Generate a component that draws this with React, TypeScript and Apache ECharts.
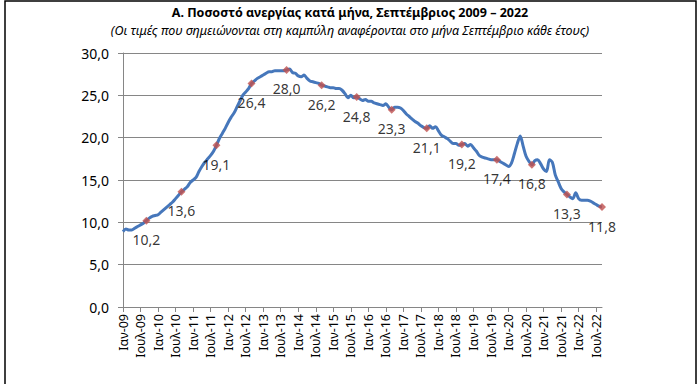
import React, { useEffect, useRef } from "react";
import * as echarts from "echarts";

const monthNames = ["Ιαν", "Φεβ", "Μαρ", "Απρ", "Μαϊ", "Ιουν", "Ιουλ", "Αυγ", "Σεπ", "Οκτ", "Νοε", "Δεκ"];
const years = [2009, 2010, 2011, 2012, 2013, 2014, 2015, 2016, 2017, 2018, 2019, 2020, 2021, 2022];

const rate2009 = [8.9, 9.2, 9.1, 9.1, 9.3, 9.5, 9.7, 9.9, 10.2, 10.5, 10.7, 10.8];
const rate2010 = [10.9, 11.2, 11.5, 11.8, 12.1, 12.4, 12.8, 13.2, 13.6, 13.9, 14.2, 14.7];
const rate2011 = [15.0, 15.3, 16.0, 16.6, 17.1, 17.5, 17.9, 18.4, 19.1, 19.9, 20.5, 21.1];
const rate2012 = [21.8, 22.4, 22.9, 23.6, 24.3, 25.0, 25.4, 25.8, 26.4, 26.7, 27.0, 27.2];
const rate2013 = [27.4, 27.6, 27.8, 27.8, 27.9, 27.9, 27.9, 27.9, 28.0, 28.1, 27.7, 27.6];
const rate2014 = [27.3, 27.2, 27.4, 27.0, 26.7, 26.6, 26.5, 26.4, 26.2, 26.1, 26.0, 25.9];
const rate2015 = [25.9, 25.8, 25.8, 25.6, 25.2, 24.7, 25.0, 24.7, 24.8, 24.6, 24.4, 24.5];
const rate2016 = [24.3, 24.3, 24.1, 24.0, 23.9, 23.8, 24.0, 23.6, 23.3, 23.6, 23.6, 23.5];
const rate2017 = [23.2, 22.8, 22.5, 22.2, 21.9, 21.7, 21.4, 21.2, 21.1, 21.4, 21.1, 21.3];
const rate2018 = [20.8, 20.3, 20.1, 19.9, 19.6, 19.3, 19.3, 19.1, 19.2, 19.3, 19.0, 19.2];
const rate2019 = [18.8, 18.4, 17.9, 17.7, 17.6, 17.5, 17.4, 17.4, 17.4, 17.2, 17.0, 16.8];
const rate2020 = [16.6, 17.0, 18.1, 19.3, 20.2, 19.0, 17.8, 17.2, 16.8, 17.3, 17.4, 16.9];
const rate2021 = [16.3, 16.0, 17.4, 17.1, 15.6, 14.8, 14.0, 13.6, 13.3, 13.0, 12.8, 13.5];
const rate2022 = [12.8, 12.6, 12.6, 12.6, 12.5, 12.3, 12.1, 11.9, 11.8];

const septemberValues = [10.2, 13.6, 19.1, 26.4, 28.0, 26.2, 24.8, 23.3, 21.1, 19.2, 17.4, 16.8, 13.3, 11.8];

const titleText = "Α. Ποσοστό ανεργίας κατά μήνα, Σεπτέμβριος 2009 – 2022";
const subtitleText = "(Οι τιμές που σημειώνονται στη καμπύλη αναφέρονται στο μήνα Σεπτέμβριο κάθε έτους)";

const yearly = [rate2009, rate2010, rate2011, rate2012, rate2013, rate2014, rate2015, rate2016, rate2017, rate2018, rate2019, rate2020, rate2021, rate2022];

const fmt = (v: number) => v.toFixed(1).replace(".", ",");

export default function App() {
  const ref = useRef<HTMLDivElement>(null);
  useEffect(() => {
    if (!ref.current) return;
    const chart = echarts.init(ref.current, null, { renderer: "svg" });
    const categories: string[] = [];
    const values: number[] = [];
    yearly.forEach((arr, yi) => {
      arr.forEach((v, mi) => {
        categories.push(monthNames[mi] + "-" + String(years[yi]).slice(2));
        values.push(v);
      });
    });
    const sept = years.map((y, yi) => [yi * 12 + 8, septemberValues[yi]]);
    const font = "'Noto Sans', sans-serif";
    chart.setOption({
      animation: false,
      backgroundColor: "#ffffff",
      title: {
        text: titleText,
        subtext: subtitleText,
        left: "center",
        top: 1,
        itemGap: 5,
        textStyle: { fontFamily: font, fontSize: 12.5, fontWeight: "bold", color: "#000" },
        subtextStyle: { fontFamily: font, fontSize: 12.5, fontStyle: "italic", color: "#000" },
      },
      graphic: [
        {
          type: "rect",
          shape: { x: 5, y: 1, width: 691, height: 420 },
          style: { fill: "none", stroke: "#000", lineWidth: 1.5 },
          silent: true,
        },
      ],
      grid: { left: 123, right: 98, top: 53, bottom: 77 },
      xAxis: {
        type: "category",
        data: categories,
        boundaryGap: false,
        axisLine: { lineStyle: { color: "#868686", width: 1 } },
        axisTick: { show: true, interval: 5, length: 5, lineStyle: { color: "#868686" } },
        axisLabel: {
          interval: 5,
          rotate: 90,
          margin: 7,
          fontFamily: font,
          fontSize: 12.5,
          color: "#000",
        },
      },
      yAxis: {
        type: "value",
        min: 0,
        max: 30,
        interval: 5,
        axisLine: { show: true, lineStyle: { color: "#868686", width: 1 } },
        axisTick: { show: true, length: 5, lineStyle: { color: "#868686" } },
        splitLine: { lineStyle: { color: "#868686", width: 1 } },
        axisLabel: {
          formatter: (v: number) => fmt(v),
          fontFamily: font,
          fontSize: 14,
          color: "#000",
          margin: 14,
        },
      },
      series: [
        {
          type: "line",
          data: values,
          smooth: 0.3,
          showSymbol: false,
          lineStyle: { color: "#4677BB", width: 3 },
          z: 2,
        },
        {
          type: "scatter",
          data: sept,
          symbol: "diamond",
          symbolSize: 8,
          itemStyle: { color: "#C0504D" },
          label: {
            show: true,
            position: "bottom",
            distance: 8,
            formatter: (p: any) => fmt(p.value[1]),
            fontFamily: font,
            fontSize: 14,
            color: "#000",
          },
          z: 3,
        },
      ],
    });
    return () => chart.dispose();
  }, []);
  return <div ref={ref} style={{ width: 700, height: 384, position: "absolute", left: 0, top: 0 }} />;
}
